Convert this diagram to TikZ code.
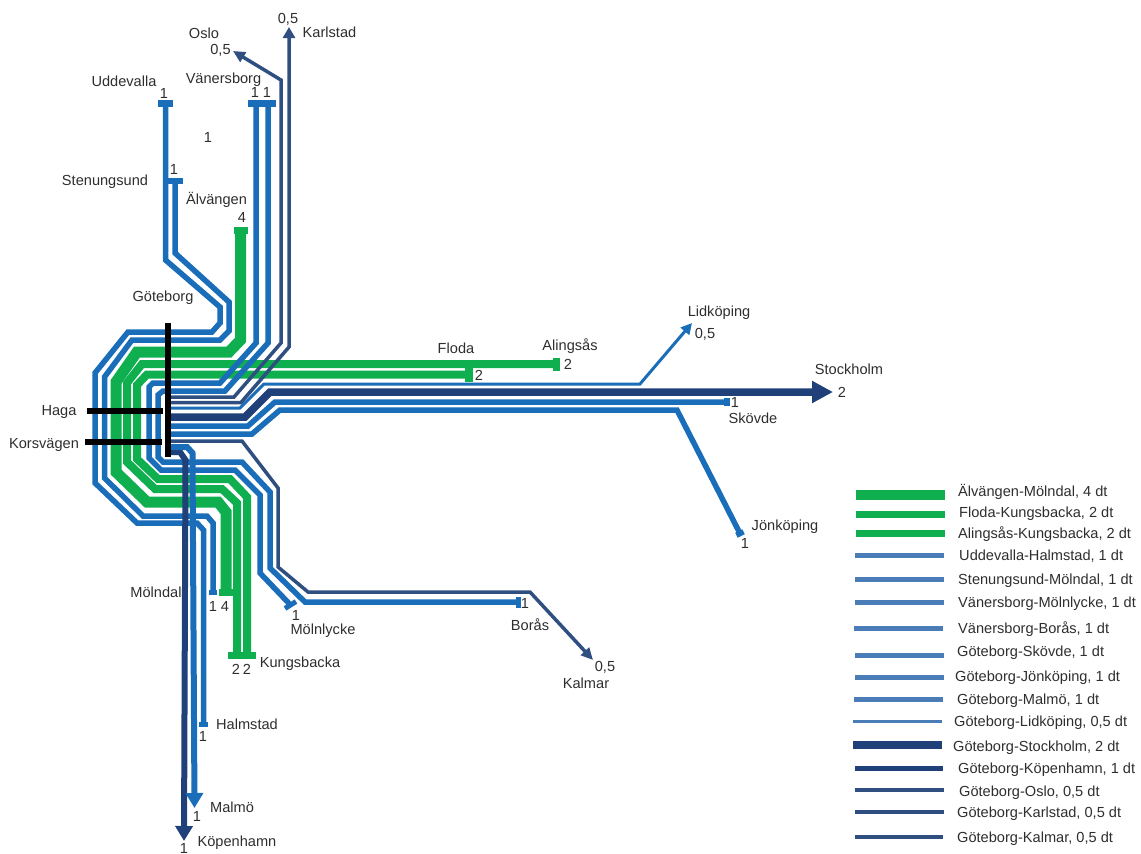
\documentclass[tikz,border=0pt]{standalone}
\usepackage{fontspec}
\setmainfont{Liberation Sans}
\usepackage{tikz}
\usetikzlibrary{arrows.meta}
\definecolor{flowblue}{HTML}{1A6DB9}
\definecolor{flowgreen}{HTML}{0FAF50}
\definecolor{flowdark}{HTML}{1F4079}
\definecolor{flowthin}{HTML}{2F4F80}
\definecolor{legblue}{HTML}{4A7CB8}
\definecolor{labgrey}{HTML}{2E2E2E}
\tikzset{
  lab/.style={inner sep=0pt,text height=10pt,text depth=0pt,text=labgrey,font=\fontsize{14.6}{16}\selectfont},
  bluefl/.style={draw=flowblue,line width=5.5pt},
  greenfl/.style={draw=flowgreen,line width=8pt},
  greenbig/.style={draw=flowgreen,line width=11pt},
  darkfl/.style={draw=flowthin,line width=3.5pt},
  bluebar/.style={fill=flowblue,inner sep=0pt},
  greenbar/.style={fill=flowgreen,inner sep=0pt},
  blackbar/.style={fill=black,inner sep=0pt},
}
\begin{document}
\begin{tikzpicture}[x=1pt,y=-1pt]
            \useasboundingbox (0,0) rectangle (1141,854);
            % end points of the routes
            \node[bluebar,minimum width=15pt,minimum height=7pt] (Udde) at (165.5,103.5) {};
            \node[bluebar,minimum width=17pt,minimum height=6pt] (Sten) at (174,181) {};
            \node[bluebar,minimum width=28pt,minimum height=7pt] (Vane) at (262,103.5) {};
            \node[greenbar,minimum width=14pt,minimum height=7pt] (Alva) at (240.5,230) {};
            \node[greenbar,minimum width=7pt,minimum height=13pt] (Alin) at (556.5,364) {};
            \node[greenbar,minimum width=8pt,minimum height=14pt] (Flod) at (469,374.5) {};
            \node[greenbar,minimum width=28pt,minimum height=7pt] (Kung) at (242,655) {};
            \node[greenbar,minimum width=14pt,minimum height=7pt] (MolG) at (226,592) {};
            \node[bluebar,minimum width=8pt,minimum height=5pt] (MolB) at (213,592.5) {};
            \node[bluebar,minimum width=9pt,minimum height=5pt] (Halm) at (203.5,724) {};
            \node[bluebar,minimum width=13pt,minimum height=5pt,rotate=32] (Moln) at (290.5,605) {};
            \node[bluebar,minimum width=5pt,minimum height=11pt] (Bora) at (518.5,602) {};
            \node[bluebar,minimum width=6pt,minimum height=8pt] (Skov) at (727,402) {};
            \node[bluebar,minimum width=8pt,minimum height=5.5pt,rotate=27] (Jonk) at (740,533.5) {};
            \coordinate (Oslo) at (233,51);
            \coordinate (Karl) at (289,27);
            \coordinate (Lidk) at (692,323);
            \coordinate (Stoc) at (833,392);
            \coordinate (Kalm) at (593,660);
            \coordinate (Malm) at (194.5,808);
            \coordinate (Kope) at (184,841);
            \foreach \n/\yy in {GOslo/397,GKarl/402.5,GLidk/408,GStoc/417,GSkov/426,GJonk/434,GKalm/441,GMalm/447,GKope/452}
                \coordinate (\n) at (168,\yy);
            % green routes
            \draw[greenfl] (Alin.center) -- (142,364) -- (127,383) -- (127,462) -- (155,489) -- (222,489) -- (237,503) -- (237,655);
            \draw[greenfl] (Flod.center) -- (147,374.5) -- (137,385) -- (137,459) -- (158,479) -- (230,479) -- (247,497) -- (247,655);
            \draw[greenbig] (Alva.center) -- (240.5,340) -- (229,352) -- (137,352) -- (116,382) -- (116,472) -- (147,502) -- (218,502) -- (226,512) -- (MolG.center);
            % blue routes
            \draw[bluefl] (Udde.center) -- (165.5,260) -- (220,307) -- (220,323) -- (212,332) -- (128,332) -- (95,373) -- (95,483) -- (137,523) -- (197,523) -- (203.5,530) -- (Halm.center);
            \draw[bluefl] ([xshift=1pt]Sten.center) -- (175,253) -- (229,302) -- (229,331) -- (220,340) -- (132,340) -- (104.5,377) -- (104.5,478) -- (143,516) -- (207,516) -- (213,523) -- (MolB.center);
            \draw[bluefl] (256,103.5) -- (256,343) -- (220,383) -- (153,383) -- (149,387) -- (149,458) -- (161,470) -- (235,470) -- (260,495) -- (260,573) -- (Moln.center);
            \draw[bluefl] (268,103.5) -- (268,343) -- (225,391) -- (163,391) -- (158,395) -- (158,457) -- (163,462) -- (242,462) -- (270,492) -- (270,568) -- (305,602) -- (Bora.center);
            \draw[bluefl] (GSkov) -- (248,426) -- (275,402) -- (Skov.center);
            \draw[bluefl] (GJonk) -- (252,434) -- (280,410) -- (677,410) -- (Jonk.center);
            \draw[draw=flowblue,line width=3pt,-{Triangle[length=11pt,width=11pt]}] (GLidk) -- (240,408) -- (264,384) -- (640,384) -- (Lidk);
            % dark routes
            \draw[darkfl,-{Triangle[length=12pt,width=11pt]}] (GOslo) -- (234,397) -- (281,343) -- (281,80) -- (Oslo);
            \draw[darkfl,-{Triangle[length=11pt,width=12pt]}] (GKarl) -- (241,402.5) -- (289,347) -- (Karl);
            \draw[draw=flowdark,line width=7.5pt,-{Triangle[length=21pt,width=21pt]}] (GStoc) -- (245,417) -- (270,392) -- (Stoc);
            \draw[darkfl,-{Triangle[length=12pt,width=11pt]}] (GKalm) -- (242,441) -- (278,488) -- (278,567) -- (308,592) -- (530,592) -- (Kalm);
            \draw[draw=flowdark,line width=6pt,-{Triangle[length=15pt,width=17pt]}] (GKope) -- (180,452) -- (185.5,460) -- (Kope);
            \draw[draw=flowblue,line width=6pt,-{Triangle[length=15pt,width=17pt]}] (GMalm) -- (187,447) -- (192.5,453) -- (Malm);
            % station bars
            \node[blackbar,minimum width=6pt,minimum height=134pt] (Gote) at (168,390) {};
            \node[blackbar,minimum width=76pt,minimum height=6pt] (Haga) at (125,411) {};
            \node[blackbar,minimum width=77pt,minimum height=6pt] (Kors) at (123.5,442) {};
            % labels
            \foreach \n/\xx/\yy/\txt in {
                a/204/33/Oslo, b/220.5/49/{0,5}, c/288/18/{0,5}, d/329.5/32/Karlstad,
                e/124/81/Uddevalla, f/164/93/1, g/223.5/78/Vänersborg, h/255/92/1, i/267/92/1,
                j/208/137/1, k/174/169/1, l/105/180/Stenungsund, m/216.5/199/Älvängen, n/242/217/4,
                o/163/296/Göteborg, p/719/311/Lidköping, q/705/333/{0,5}, r/456/348/Floda,
                s/570/345/Alingsås, t/479/375/2, u/568/364/2, v/849/369/Stockholm, w/842/392/2,
                x/735/402/1, y/753/418/Skövde, z/785/525/Jönköping, aa/745/543/1, ab/59/410/Haga,
                ac/44/443/Korsvägen, ad/156/592/Mölndal, ae/213/606/1, af/225/606/4,
                ag/323/629/Mölnlycke, ah/296/615/1, ai/530/625/Borås, aj/525/603/1,
                ak/605/666/{0,5}, al/586/683/Kalmar, am/300/662/Kungsbacka, an/236/669/2,
                ao/247/669/2, ap/247/724/Halmstad, aq/203/736/1, ar/232/807/Malmö, as/197/816/1,
                at/237/841/Köpenhamn, au/184/848/1}
                \node[lab] (Lab\n) at (\xx,\yy) {\txt};
            % legend
            \foreach \i/\xa/\xb/\ya/\col/\lw/\xt/\yt/\txt in {
                1/856/945/495/flowgreen/10.5/958/491/{Älvängen-Mölndal, 4 dt},
                2/856/945/514/flowgreen/7/959/512/{Floda-Kungsbacka, 2 dt},
                3/856/945/533/flowgreen/7/958/533/{Alingsås-Kungsbacka, 2 dt},
                4/855/944/555/legblue/5/959/555/{Uddevalla-Halmstad, 1 dt},
                5/855/944/579/legblue/5/958/579/{Stenungsund-Mölndal, 1 dt},
                6/855/944/602/legblue/5/958/602/{Vänersborg-Mölnlycke, 1 dt},
                7/854/943/628/legblue/5/958/628/{Vänersborg-Borås, 1 dt},
                8/855/944/655/legblue/5/957/651/{Göteborg-Skövde, 1 dt},
                9/855/944/677/legblue/5/955/676/{Göteborg-Jönköping, 1 dt},
                10/854/943/699/legblue/5/957/699/{Göteborg-Malmö, 1 dt},
                11/853/942/721/legblue/3/954/721/{Göteborg-Lidköping, 0,5 dt},
                12/853/942/745/flowdark/7.5/953/746/{Göteborg-Stockholm, 2 dt},
                13/855/943/768/flowdark/5/958/768/{Göteborg-Köpenhamn, 1 dt},
                14/855/944/790/flowthin/3.5/959/791/{Göteborg-Oslo, 0,5 dt},
                15/855/944/812/flowthin/3.5/957/812/{Göteborg-Karlstad, 0,5 dt},
                16/855/943/837/flowthin/3.5/957/837/{Göteborg-Kalmar, 0,5 dt}}{
                \draw[draw=\col,line width=\lw pt] (\xa,\ya) -- (\xb,\ya);
                \node[lab,anchor=west] (Leg\i) at (\xt,\yt) {\txt};
            }
        \end{tikzpicture}
\end{document}
